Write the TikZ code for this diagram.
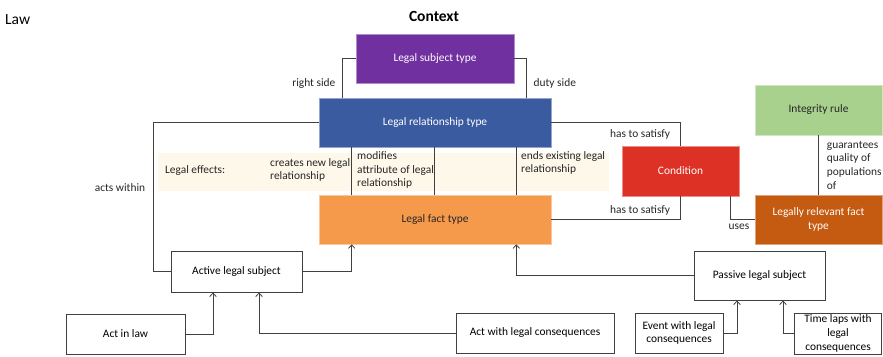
\documentclass[tikz,border=0pt]{standalone}
\usepackage{fontspec}
\setmainfont{Carlito}
\usepackage{xcolor}
\usetikzlibrary{arrows.meta, positioning, calc}

\definecolor{subjpurple}{HTML}{7030A0}
\definecolor{relblue}{HTML}{3A5BA0}
\definecolor{factorange}{HTML}{F59A4B}
\definecolor{condred}{HTML}{DE3126}
\definecolor{rulegreen}{HTML}{A9D18E}
\definecolor{lrfbrown}{HTML}{C55A11}
\definecolor{cream}{HTML}{FDF8EA}
\definecolor{linegray}{HTML}{404040}

\begin{document}
\begin{tikzpicture}[x=1pt, y=-1pt,
    every node/.style={font=\fontsize{11.4}{13.7}\selectfont},
    typebox/.style={rectangle, fill=#1, draw=#1!55!white, line width=0.6pt, text=white, align=center, inner sep=0pt},
    plainbox/.style={rectangle, draw=linegray, line width=0.9pt, fill=white, align=center, inner sep=0pt},
    band/.style={rectangle, fill=cream, inner sep=0pt},
    lbl/.style={inner sep=0pt, align=left, text=black!85},
    link/.style={draw=linegray, line width=0.8pt},
    arr/.style={link, -{Straight Barb[length=3.5pt, width=6.5pt]}}]
    \useasboundingbox (0,0) rectangle (883,356);

    % titles
    \node[font=\fontsize{15.5}{18}\selectfont, anchor=west, inner sep=0pt] (law) at (5,20) {Law};
    \node[font=\fontsize{15.5}{18}\selectfont\bfseries, inner sep=0pt] (context) at (434,16) {Context};

    % legal effects band
    \node[band, minimum width=451pt, minimum height=38pt] (effects) at (383.5,172) {};

    % type boxes
    \node[typebox=subjpurple, minimum width=158pt, minimum height=49pt] (subj) at (435,58.5) {Legal subject type};
    \node[typebox=relblue, minimum width=232pt, minimum height=49pt] (rel) at (435,122.5) {Legal relationship type};
    \node[typebox=factorange, text=black!85, minimum width=232pt, minimum height=49pt] (fact) at (435,219.5) {Legal fact type};
    \node[typebox=condred, minimum width=117pt, minimum height=50pt] (cond) at (680.5,171) {Condition};
    \node[typebox=rulegreen, text=black!85, minimum width=127pt, minimum height=50pt] (rule) at (818.5,110) {Integrity rule};
    \node[typebox=lrfbrown, minimum width=127pt, minimum height=49pt] (lrf) at (818.5,219.5) {Legally relevant fact\\type};

    % subjects and acts
    \node[plainbox, minimum width=131pt, minimum height=41pt] (act) at (236.5,271.5) {Active legal subject};
    \node[plainbox, minimum width=131pt, minimum height=49pt] (pas) at (759.5,275.5) {Passive legal subject};
    \node[plainbox, minimum width=119pt, minimum height=40pt] (ail) at (125.5,334) {Act in law};
    \node[plainbox, minimum width=158pt, minimum height=40pt] (awc) at (535,333) {Act with legal consequences};
    \node[plainbox, minimum width=88pt, minimum height=40pt] (ewc) at (679,333) {Event with legal\\consequences};
    \node[plainbox, minimum width=87pt, minimum height=41pt] (twc) at (838,333.5) {Time laps with\\legal\\consequences};

    % effect texts
    \node[lbl, anchor=west] (lefx) at (165,171) {Legal effects:};
    \node[lbl, anchor=west] (creates) at (270,170) {creates new legal\\relationship};
    \node[lbl, anchor=west] (modifies) at (357,170) {modifies\\attribute of legal\\relationship};
    \node[lbl, anchor=west] (ends) at (521,163) {ends existing legal\\relationship};

    % connectors
    \draw[link] (subj.west) -| ([xshift=24pt]rel.north west)
        node[lbl, pos=.82, left=7pt] {right side};
    \draw[link] (subj.east) -| ([xshift=-25pt]rel.north east)
        node[lbl, pos=.82, right=7pt] {duty side};
    \draw[link] (rel.west) -| ([xshift=-17pt]act.west)
        node[lbl, pos=.72, left=8pt] {acts within} -- (act.west);
    \draw[link] (rel.east) -| (cond.north)
        node[lbl, pos=.5, anchor=north east, xshift=-10pt, yshift=-6.5pt] {has to satisfy};
    \draw[link] (fact.east) -| (cond.south)
        node[lbl, pos=.5, anchor=south east, xshift=-10pt, yshift=4pt] {has to satisfy};
    \draw[link] ([xshift=-9pt]cond.south east) |- (lrf.west)
        node[lbl, pos=.5, anchor=north west, xshift=-2pt, yshift=-4pt] {uses};
    \draw[link] (rule.south) -- (lrf.north)
        node[lbl, midway, right=8pt] {guarantees\\quality of\\populations\\of};

    \draw[link] ([xshift=33pt]rel.south west) -- ([xshift=33pt]fact.north west);
    \draw[link] ([xshift=-1pt]rel.south) -- ([xshift=-1pt]fact.north);
    \draw[link] ([xshift=-35pt]rel.south east) -- ([xshift=-35pt]fact.north east);

    \draw[arr] (act.east) -| ([xshift=33pt]fact.south west);
    \draw[arr] (pas.west) -| ([xshift=-35pt]fact.south east);
    \draw[arr] (ail.east) -| ([xshift=-23.5pt]act.south);
    \draw[arr] (awc.west) -| ([xshift=22.5pt]act.south);
    \draw[arr] (ewc.east) -| ([xshift=-22.5pt]pas.south);
    \draw[arr] (twc.west) -| ([xshift=23.5pt]pas.south);
\end{tikzpicture}
\end{document}
